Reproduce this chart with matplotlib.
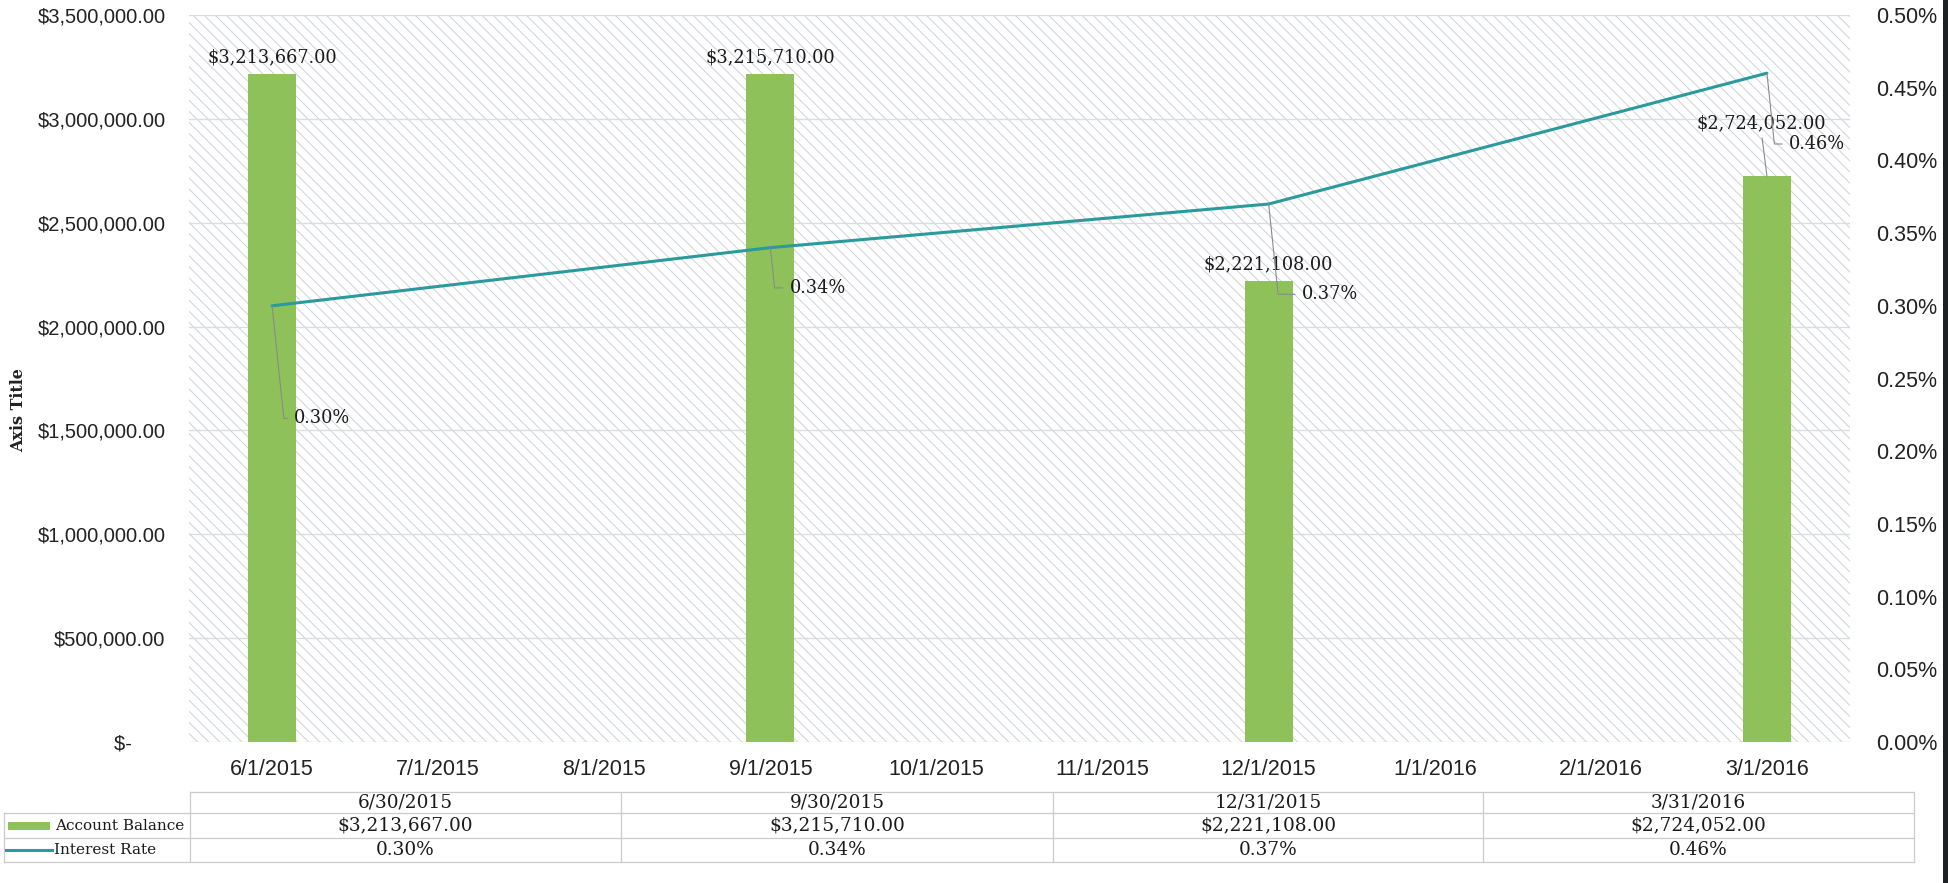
import matplotlib
matplotlib.use("Agg")
import matplotlib.pyplot as plt
from matplotlib.ticker import FuncFormatter, MultipleLocator
from matplotlib.lines import Line2D
from matplotlib.patches import Rectangle

# ---- data ----
month_labels = ["6/1/2015", "7/1/2015", "8/1/2015", "9/1/2015", "10/1/2015",
                "11/1/2015", "12/1/2015", "1/1/2016", "2/1/2016", "3/1/2016"]
quarter_pos = [0, 3, 6, 9]
quarter_end = ["6/30/2015", "9/30/2015", "12/31/2015", "3/31/2016"]
balances = [3213667.00, 3215710.00, 2221108.00, 2724052.00]
rates = [0.0030, 0.0034, 0.0037, 0.0046]

BAR_C = "#8fc15a"
LINE_C = "#2a9a9c"
GRID_C = "#dadce2"
SERIF = ["DejaVu Serif"]
SANS = ["Liberation Sans", "DejaVu Sans"]

plt.rcParams["hatch.color"] = "#cdd1da"
plt.rcParams["hatch.linewidth"] = 0.7

W, H = 1949, 883
fig = plt.figure(figsize=(W / 100, H / 100), dpi=100)
fig.patch.set_facecolor("white")

def fx(px):
    return px / W

def fy(py):
    return 1 - py / H

L, R, T, B = 189, 1850, 15, 742
ax = fig.add_axes([fx(L), fy(B), fx(R - L), (B - T) / H])
ax2 = ax.twinx()

# hatched plot area
ax.patch.set_facecolor("white")
ax.patch.set_hatch("\\\\\\")
ax.patch.set_edgecolor("#cdd1da")
ax.patch.set_linewidth(0)

ax.set_xlim(-0.5, len(month_labels) - 0.5)
ax.set_ylim(0, 3500000)
ax2.set_ylim(0, 0.005)

ax.yaxis.set_major_locator(MultipleLocator(500000))
ax2.yaxis.set_major_locator(MultipleLocator(0.0005))
ax.grid(axis="y", color=GRID_C, lw=1.0)
ax.set_axisbelow(True)

def money(v, _pos=None):
    if v == 0:
        return "$-      "
    return "${:,.2f}".format(v)

ax.yaxis.set_major_formatter(FuncFormatter(money))
ax2.yaxis.set_major_formatter(FuncFormatter(lambda v, p: "{:.2%}".format(v)))

ax.set_xticks(range(len(month_labels)))
ax.set_xticklabels(month_labels)

for a in (ax, ax2):
    for s in a.spines.values():
        s.set_visible(False)
    a.tick_params(length=0)
ax.tick_params(axis="y", pad=17, labelsize=14.5, labelcolor="#222222")
ax.tick_params(axis="x", pad=12, labelsize=15.5, labelcolor="#222222")
ax2.tick_params(axis="y", pad=19, labelsize=15.5, labelcolor="#222222")
for lab in ax.get_xticklabels() + ax.get_yticklabels() + ax2.get_yticklabels():
    lab.set_fontfamily(SANS)

# bars
ax.bar(quarter_pos, balances, width=0.29, color=BAR_C, zorder=2)

# interest rate line
ax2.plot(quarter_pos, rates, color=LINE_C, lw=2.2, zorder=3,
         solid_capstyle="round")

# balance labels (offset in points, last one pulled up with a leader)
bal_offsets = [(0, 12), (0, 12), (0, 12), (-4, 38)]
for x, v, (dx, dy) in zip(quarter_pos, balances, bal_offsets):
    props = None
    if dy > 20:
        props = dict(arrowstyle="-", color="#8a8a8a", lw=0.8,
                     shrinkA=2, shrinkB=0, relpos=(0.5, 0.0))
    ax.annotate("${:,.2f}".format(v), xy=(x, v), xytext=(dx, dy),
                textcoords="offset points", ha="center", va="center",
                fontsize=12.8, family=SERIF, color="#1a1a1a",
                arrowprops=props, zorder=5)

# rate labels with leader lines
rate_offsets = [(16, -81), (14, -29), (24, -65), (16, -51)]
for x, r, (dx, dy) in zip(quarter_pos, rates, rate_offsets):
    ax2.annotate("{:.2%}".format(r), xy=(x, r), xytext=(dx, dy),
                 textcoords="offset points", ha="left", va="center",
                 fontsize=12.8, family=SERIF, color="#1a1a1a",
                 arrowprops=dict(arrowstyle="-", color="#8a8a8a", lw=0.8,
                                 shrinkA=3, shrinkB=0, relpos=(0, 0.5),
                                 connectionstyle="angle,angleA=0,angleB=96,rad=0"),
                 zorder=5)

# axis title
fig.text(fx(19), fy(410), "Axis Title", rotation=90, ha="center", va="center",
         fontsize=11.5, fontweight="bold", family=SERIF, color="#222222")

# ---- data table below the chart ----
TC = "#cbcbcb"
col_edges = [190, 621, 1053, 1483, 1914]
row_edges = [792, 813, 838, 862]
leg_left = 4

def hline(x0, x1, y):
    fig.add_artist(Line2D([fx(x0), fx(x1)], [fy(y), fy(y)], color=TC, lw=0.9))

def vline(x, y0, y1):
    fig.add_artist(Line2D([fx(x), fx(x)], [fy(y0), fy(y1)], color=TC, lw=0.9))

hline(col_edges[0], col_edges[-1], row_edges[0])
for y in row_edges[1:]:
    hline(leg_left, col_edges[-1], y)
for x in col_edges:
    vline(x, row_edges[0], row_edges[-1])
vline(leg_left, row_edges[1], row_edges[-1])

row_text = [quarter_end,
            ["${:,.2f}".format(v) for v in balances],
            ["{:.2%}".format(r) for r in rates]]
for ri, texts in enumerate(row_text):
    yc = (row_edges[ri] + row_edges[ri + 1]) / 2
    for ci, t in enumerate(texts):
        xc = (col_edges[ci] + col_edges[ci + 1]) / 2
        fig.text(fx(xc), fy(yc), t, ha="center", va="center",
                 fontsize=13.3, family=SERIF, color="#1a1a1a")

# legend keys in the table's first column
y_bal = (row_edges[1] + row_edges[2]) / 2
y_rate = (row_edges[2] + row_edges[3]) / 2
fig.add_artist(Rectangle((fx(8), fy(y_bal + 4)), fx(42), 8 / H,
                         color=BAR_C, lw=0))
fig.add_artist(Line2D([fx(6), fx(52)], [fy(y_rate), fy(y_rate)],
                      color=LINE_C, lw=2.2))
fig.text(fx(55), fy(y_bal), "Account Balance", ha="left", va="center",
         fontsize=11, family=SERIF, color="#1a1a1a")
fig.text(fx(54), fy(y_rate), "Interest Rate", ha="left", va="center",
         fontsize=11, family=SERIF, color="#1a1a1a")

# dark page edge on the right
fig.add_artist(Rectangle((fx(1943), 0), fx(6), 1, color="#1c2126", lw=0))

fig.savefig("out.png", dpi=100, facecolor="white")
